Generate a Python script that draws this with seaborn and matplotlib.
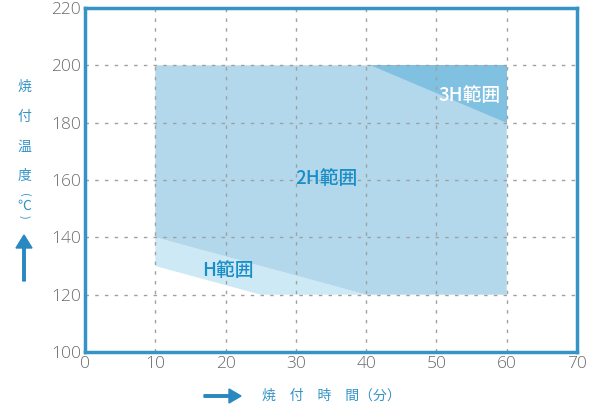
import matplotlib
matplotlib.use("Agg")
import matplotlib.pyplot as plt
import seaborn as sns
import pandas as pd

# data
region_2h_x = [10, 40, 60, 60, 10]
region_2h_y = [140, 120, 120, 200, 200]
region_h_x = [10, 10, 40, 25]
region_h_y = [130, 140, 120, 120]
region_3h_x = [40.5, 60, 60]
region_3h_y = [200, 200, 180]
labels = ["3H範囲", "2H範囲", "H範囲"]
label_x = [54.7, 34.4, 20.3]
label_y = [189.6, 160.6, 128.6]
x_ticks = [0, 10, 20, 30, 40, 50, 60, 70]
y_ticks = [100, 120, 140, 160, 180, 200, 220]

sns.set_style("white")
plt.rcParams['font.family'] = ['Open Sans', 'Noto Sans CJK JP', 'DejaVu Sans']

fig = plt.figure(figsize=(5.97, 4.12), dpi=100)
ax = fig.add_axes([85/597, 1-352/412, 492/597, 344/412])

df_h = pd.DataFrame({"x": region_h_x, "y": region_h_y})
df_2h = pd.DataFrame({"x": region_2h_x, "y": region_2h_y})
df_3h = pd.DataFrame({"x": region_3h_x, "y": region_3h_y})

ax.fill(df_h["x"], df_h["y"], color="#cde9f6", lw=0, zorder=1)
ax.fill(df_2h["x"], df_2h["y"], color="#b3d8eb", lw=0, zorder=2)
ax.fill(df_3h["x"], df_3h["y"], color="#80c0e1", lw=0, zorder=3)

for xv in x_ticks[1:-1]:
    ax.axvline(xv, color="#a0a0a0", ls=(0, (2.5, 4.5)), lw=1, zorder=4)
for yv in y_ticks[1:-1]:
    ax.axhline(yv, color="#a0a0a0", ls=(0, (2.5, 4.5)), lw=1, zorder=4)

colors = ["white", "#1a8ec6", "#1a8ec6"]
for t, xx, yy, c in zip(labels, label_x, label_y, colors):
    ax.text(xx, yy, t, color=c, fontsize=13.5, ha="center", va="center",
            family=['Noto Sans CJK JP'], weight="medium", zorder=5)

ax.set_xlim(0, 70)
ax.set_ylim(100, 220)
ax.set_xticks(x_ticks)
ax.set_yticks(y_ticks)
ax.tick_params(axis="both", length=0, labelsize=12.5, labelcolor="#6b6b6b", pad=3)
for lab in ax.get_xticklabels() + ax.get_yticklabels():
    lab.set_fontweight("light")
for s in ax.spines.values():
    s.set_color("#3593c6")
    s.set_linewidth(2.5)
    s.set_zorder(6)

# y label stacked characters
ychars = ["焼", "付", "温", "度"]
ypos = [87, 117, 147, 176]
for ch, yp in zip(ychars, ypos):
    fig.text(24/597, 1-yp/412, ch, color="#3593c6", fontsize=10, ha="center", va="center",
             family=['Noto Sans CJK JP'])
fig.text(24/597, 1-195/412, "(", color="#3593c6", fontsize=8, ha="center", va="center",
         rotation=-90, family=['Noto Sans CJK JP'])
fig.text(24/597, 1-206/412, "℃", color="#3593c6", fontsize=10, ha="center", va="center",
         family=['Noto Sans CJK JP'])
fig.text(24/597, 1-217/412, ")", color="#3593c6", fontsize=8, ha="center", va="center",
         rotation=-90, family=['Noto Sans CJK JP'])
fig.patches.append(matplotlib.patches.FancyArrow(24/597, 1-281/412, 0, 46/412, width=2.5/597,
                   head_width=16/597, head_length=13/412, length_includes_head=True,
                   color="#2a88c0", transform=fig.transFigure, figure=fig))

fig.patches.append(matplotlib.patches.FancyArrow(204/597, 1-396/412, 37/597, 0, width=2.5/412,
                   head_width=14/412, head_length=12/597, length_includes_head=True,
                   color="#2a88c0", transform=fig.transFigure, figure=fig))
fig.text(262/597, 1-396/412, "焼　付　時　間（分）", color="#3593c6", fontsize=10, ha="left", va="center",
         family=['Noto Sans CJK JP'])

fig.savefig("out.png", dpi=100)
